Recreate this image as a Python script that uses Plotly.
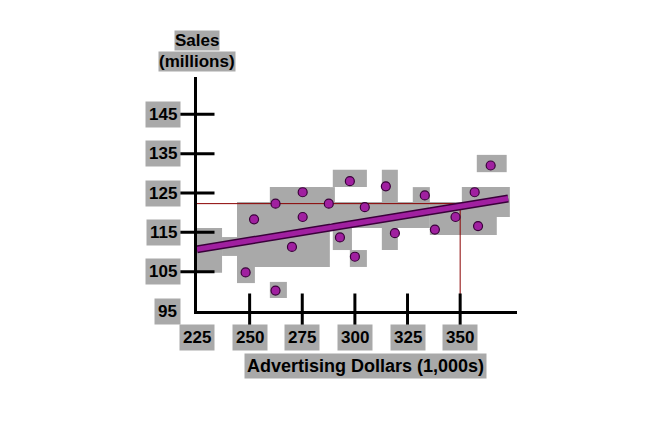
import plotly.graph_objects as go

# ---- data ----
adv_x = [252.1, 262.3, 275.2, 275.2, 270.1, 248.1, 262.3, 287.6, 297.6, 304.7,
         292.9, 300.0, 314.7, 319.0, 333.2, 338.0, 347.8, 356.9, 358.5, 364.5]
sales_y = [118.3, 122.3, 125.2, 118.9, 111.3, 104.8, 100.2, 122.3, 128.0, 121.4,
           113.7, 108.8, 126.7, 114.8, 124.4, 115.7, 118.9, 125.2, 116.6, 132.0]
fit_x = [225, 372.8]
fit_y = [110.7, 123.6]
ref_x = 350
ref_y = 122.3
x_tick_labels = [225, 250, 275, 300, 325, 350]
y_tick_labels = [95, 105, 115, 125, 135, 145]
x_tick_marks = [250, 275, 300, 325, 350]
y_tick_marks = [105, 115, 125, 135, 145]
X_MIN, X_MAX = 225, 377
Y_MIN, Y_MAX = 95, 154.5

GRAY = "#a9a9a9"
PURPLE = "#a020a0"
DARK = "#3a003a"
FONT = "Liberation Sans"

fig = go.Figure()

# gray blotches (decorative background)
blobs = [
    (219.3, 236.9, 104.7, 116.1), (236.9, 245.4, 109.0, 113.8),
    (244.0, 288.1, 106.2, 122.7), (259.6, 288.1, 122.7, 126.5),
    (244.0, 252.5, 102.1, 106.7), (259.6, 267.7, 98.3, 102.4),
    (283.4, 290.5, 117.4, 126.5), (289.5, 305.7, 126.5, 130.9),
    (289.5, 335.6, 116.1, 122.7), (297.6, 305.7, 106.2, 110.5),
    (289.5, 298.6, 110.5, 116.1), (312.8, 320.4, 110.5, 130.9),
    (327.5, 335.6, 122.0, 126.5), (335.6, 367.4, 114.3, 122.7),
    (350.8, 373.6, 118.9, 126.5), (357.9, 372.1, 130.3, 134.7),
]
for x0, x1, y0, y1 in blobs:
    fig.add_shape(type="rect", xref="x", yref="y", x0=x0, x1=x1, y0=y0, y1=y1,
                  fillcolor=GRAY, line_width=0, layer="below")

# reference lines
fig.add_trace(go.Scatter(x=[X_MIN, ref_x, ref_x], y=[ref_y, ref_y, Y_MIN], mode="lines",
                         line=dict(color="#8b0000", width=1), hoverinfo="skip", showlegend=False))

# regression line (outline + fill)
fig.add_trace(go.Scatter(x=fit_x, y=fit_y, mode="lines", line=dict(color=DARK, width=8),
                         showlegend=False, hoverinfo="skip"))
fig.add_trace(go.Scatter(x=fit_x, y=fit_y, mode="lines", line=dict(color=PURPLE, width=5),
                         showlegend=False, hoverinfo="skip"))

# points
fig.add_trace(go.Scatter(x=adv_x, y=sales_y, mode="markers",
                         marker=dict(size=9, color=PURPLE, line=dict(color=DARK, width=1.2)),
                         showlegend=False))

# crossing tick marks
fig.add_trace(go.Scatter(x=x_tick_marks, y=[Y_MIN] * len(x_tick_marks), mode="markers",
                         marker=dict(symbol="line-ns", size=25, line=dict(color="black", width=3)),
                         cliponaxis=False, showlegend=False, hoverinfo="skip"))
fig.add_trace(go.Scatter(x=[X_MIN] * len(y_tick_marks), y=y_tick_marks, mode="markers",
                         marker=dict(symbol="line-ew", size=25, line=dict(color="black", width=3)),
                         cliponaxis=False, showlegend=False, hoverinfo="skip"))

# tick labels with gray backgrounds
for v in x_tick_labels:
    fig.add_annotation(x=v, y=Y_MIN, xref="x", yref="y", yshift=-26, text=f"<b>{v}</b>",
                       showarrow=False, bgcolor=GRAY, borderpad=3,
                       font=dict(family=FONT, size=17, color="black"))
for v in y_tick_labels:
    fig.add_annotation(x=X_MIN, y=v, xref="x", yref="y", xshift=-16, xanchor="right",
                       text=f"<b>{v}</b>", showarrow=False, bgcolor=GRAY, borderpad=3,
                       font=dict(family=FONT, size=17, color="black"))

# axis titles
fig.add_annotation(x=X_MIN, y=1, xref="x", yref="paper", yshift=37, yanchor="middle",
                   text="<b>Sales</b>", showarrow=False, bgcolor=GRAY, borderpad=0,
                   font=dict(family=FONT, size=17, color="black"))
fig.add_annotation(x=X_MIN, y=1, xref="x", yref="paper", yshift=16, yanchor="middle",
                   text="<b>(millions)</b>", showarrow=False, bgcolor=GRAY, borderpad=0,
                   font=dict(family=FONT, size=17, color="black"))
fig.add_annotation(x=305.2, y=Y_MIN, xref="x", yref="y", yshift=-55,
                   text="<b>Advertising Dollars (1,000s)</b>", showarrow=False, bgcolor=GRAY,
                   borderpad=2, font=dict(family=FONT, size=18, color="black"))

fig.update_layout(
    width=660, height=435,
    margin=dict(l=189, r=151, t=69, b=132),
    paper_bgcolor="white", plot_bgcolor="white",
    xaxis=dict(range=[X_MIN, X_MAX], showline=True, linecolor="black", linewidth=3,
               showgrid=False, zeroline=False, showticklabels=False, ticks=""),
    yaxis=dict(range=[Y_MIN, Y_MAX], showline=True, linecolor="black", linewidth=3,
               showgrid=False, zeroline=False, showticklabels=False, ticks=""),
)

fig.write_html("out.html")
